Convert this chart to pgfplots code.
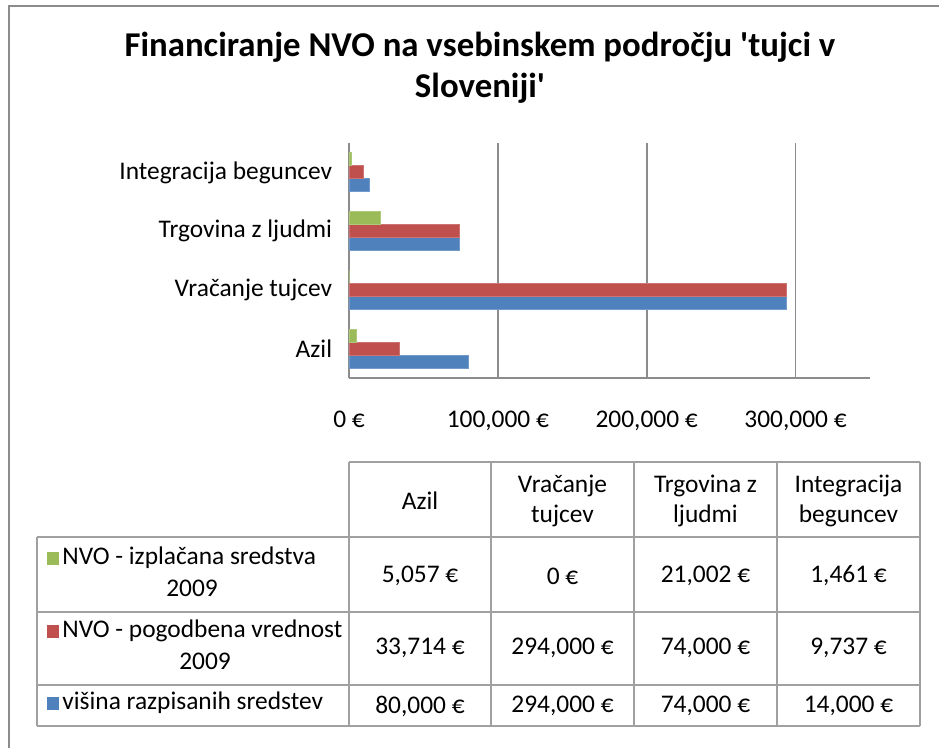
\documentclass[border=0pt]{standalone}
\usepackage{fontspec}
\setmainfont{Carlito}
\usepackage{pgfplots}
\pgfplotsset{compat=1.18}
\definecolor{cblue}{HTML}{4F81BD}
\definecolor{cred}{HTML}{C0504D}
\definecolor{cgreen}{HTML}{9BBB59}
\definecolor{lgray}{HTML}{8C8C8C}
\definecolor{tgray}{HTML}{A0A0A0}
\begin{document}
\fontsize{12.7}{15}\selectfont
\begin{tikzpicture}[x=0.5pt,y=0.5pt]
\useasboundingbox (0,0) rectangle (939,-748);
\coordinate (A) at (349,-378);
\draw[lgray, line width=1pt] (9,-748) -- (9,-6) -- (939,-6);
\node[font=\bfseries\fontsize{17.4}{20}\selectfont] at (480,-47) {Financiranje NVO na vsebinskem področju \textquotesingle tujci v};
\node[font=\bfseries\fontsize{17.4}{20}\selectfont] at (480,-88) {Sloveniji\textquotesingle};
\begin{axis}[
  at={(A)}, anchor=south west,
  scale only axis, width=260.5pt, height=117.5pt,
  xbar=0pt, bar width=6.5pt,
  xmin=0, xmax=350000, ymin=-0.5, ymax=3.5,
  ytick={0,1,2,3},
  yticklabels={Azil, Vračanje tujcev, Trgovina z ljudmi, Integracija beguncev},
  xtick={0,100000,200000,300000},
  xticklabels={{0 €},{100,000 €},{200,000 €},{300,000 €}},
  scaled x ticks=false,
  xmajorgrids, grid style={lgray, line width=0.8pt},
  axis x line*=bottom, axis y line*=left,
  axis line style={lgray, line width=0.8pt, -},
  major tick length=0pt, tick style={draw=none},
  xticklabel style={yshift=-12pt, font=\fontsize{12.7}{15}\selectfont},
  yticklabel style={xshift=-4pt, font=\fontsize{12.7}{15}\selectfont},
  clip=false,
]
\addplot[fill=cblue, draw=cblue!80!white] coordinates {(80000,0) (294000,1) (74000,2) (14000,3)};
\addplot[fill=cred, draw=cred!80!white] coordinates {(33714,0) (294000,1) (74000,2) (9737,3)};
\addplot[fill=cgreen, draw=cgreen!80!white] coordinates {(5057,0) (0,1) (21002,2) (1461,3)};
\end{axis}
% data table
\begin{scope}[tgray, line width=0.8pt]
\draw (349,-462) -- (920,-462);
\foreach \yy in {537,612,685,726} \draw (37,-\yy) -- (920,-\yy);
\draw (37,-537) -- (37,-726);
\foreach \xx in {349,491,634,777,920} \draw (\xx,-462) -- (\xx,-726);
\end{scope}
\node at (420,-501) {Azil};
\node at (562.5,-486) {Vračanje};
\node at (562.5,-516) {tujcev};
\node at (705.5,-486) {Trgovina z};
\node at (705.5,-516) {ljudmi};
\node at (848.5,-486) {Integracija};
\node at (848.5,-516) {beguncev};
% row labels
\fill[cgreen] (47,-552) rectangle (59,-565);
\node[anchor=west, inner sep=0pt] at (62,-558) {NVO - izplačana sredstva};
\node at (192,-588) {2009};
\fill[cred] (47,-625) rectangle (59,-638);
\node[anchor=west, inner sep=0pt] at (62,-631) {NVO - pogodbena vrednost};
\node at (205,-661) {2009};
\fill[cblue] (47,-697) rectangle (59,-710);
\node[anchor=west, inner sep=0pt] at (62,-703) {višina razpisanih sredstev};
% values
\node at (420,-576) {5,057 €};
\node at (562.5,-576) {0 €};
\node at (705.5,-576) {21,002 €};
\node at (848.5,-576) {1,461 €};
\node at (420,-648) {33,714 €};
\node at (562.5,-648) {294,000 €};
\node at (705.5,-648) {74,000 €};
\node at (848.5,-648) {9,737 €};
\node at (420,-706) {80,000 €};
\node at (562.5,-706) {294,000 €};
\node at (705.5,-706) {74,000 €};
\node at (848.5,-706) {14,000 €};
\end{tikzpicture}
\end{document}
